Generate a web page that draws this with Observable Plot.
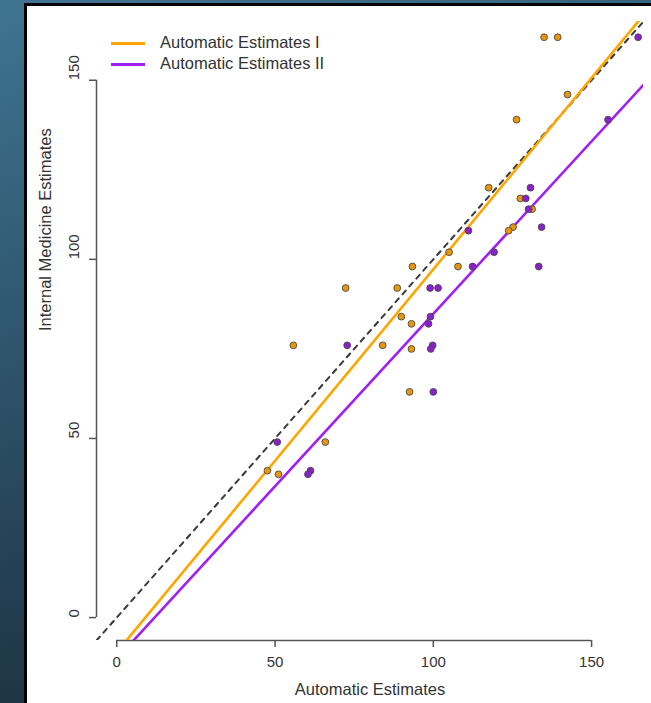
<!DOCTYPE html>
<html>
<head>
<meta charset="utf-8">
<script src="https://cdn.jsdelivr.net/npm/d3@7"></script>
<script src="https://cdn.jsdelivr.net/npm/@observablehq/plot@0.6"></script>
<style>
  html, body { margin: 0; padding: 0; }
  body {
    width: 651px; height: 703px; overflow: hidden; position: relative;
    background: linear-gradient(165deg, #3f7490 0%, #2c5168 45%, #172631 100%);
    font-family: "Liberation Sans", Arial, sans-serif;
  }
  #panel {
    position: absolute; left: 24px; top: 3px; width: 640px; height: 710px;
    background: #fff; border-left: 3px solid #000; border-top: 3px solid #000;
  }
  #chart { position: absolute; left: 0; top: 0; }
  #legend { position: absolute; left: 111px; top: 31px; color: #333; font-size: 16.5px; }
  .lg { position: relative; height: 21px; }
  .sw { position: absolute; left: 0; top: 11px; width: 34px; height: 2.5px; }
  .lt { position: absolute; left: 49px; top: 0; white-space: nowrap; line-height: 22px; }
</style>
</head>
<body>
<div id="panel"></div>
<div id="chart"></div>
<div id="legend"></div>
<script>
// Internal Medicine Estimates (shared y values)
const internalMedicine = [162,162,146,139,120,117,114,109,108,102,98,98,92,92,84,82,76,76,75,63,49,41,40];
// Automatic Estimates I (x values, orange)
const autoI  = [135,139.3,142.4,126.3,117.5,127.5,131.2,125.2,123.8,105,107.8,93.4,72.3,88.6,89.9,93.1,55.8,84,93.1,92.5,65.9,47.6,51.1];
// Automatic Estimates II (x values, purple); null = missing
const autoII = [164.7,null,null,155.2,130.7,129.2,130.1,134.2,111.1,119.2,112.4,133.3,99,101.5,99.1,98.5,72.8,99.8,99.2,100,50.7,61.2,60.4];

const seriesNames = ["Automatic Estimates I", "Automatic Estimates II"];
const xTicks = [0, 50, 100, 150];
const yTicks = [0, 50, 100, 150];
const axisLimits = [0, 160];

const lineColors = ["#FFA500", "#A020F0"];
const pointColors = ["#E8960A", "#8A1FCB"];

// R-style 4% axis expansion
const pad = 0.04 * (axisLimits[1] - axisLimits[0]);
const dom = [axisLimits[0] - pad, axisLimits[1] + pad];

function pairs(xs) {
  return xs.map((x, i) => ({x, y: internalMedicine[i]})).filter(d => d.x != null);
}
const sets = [pairs(autoI), pairs(autoII)];

function fit(pts) {
  const mx = d3.mean(pts, d => d.x), my = d3.mean(pts, d => d.y);
  const sxy = d3.sum(pts, d => (d.x - mx) * (d.y - my));
  const sxx = d3.sum(pts, d => (d.x - mx) ** 2);
  const b = sxy / sxx, a = my - b * mx;
  return dom.map(x => ({x, y: a + b * x}));
}
const fits = sets.map(fit);
const identity = dom.map(v => ({x: v, y: v}));

const textColor = "#333";
const axisColor = "#555";

const plot = Plot.plot({
  width: 651, height: 703,
  marginLeft: 96, marginRight: 8, marginTop: 21, marginBottom: 63,
  x: {domain: dom, axis: null},
  y: {domain: dom, axis: null},
  style: {background: "transparent", fontFamily: "'Liberation Sans', Arial, sans-serif", color: textColor},
  marks: [
    // axes (R style: line spans first..last tick)
    Plot.ruleY([dom[0]], {x1: xTicks[0], x2: xTicks[xTicks.length - 1], stroke: axisColor, strokeWidth: 1.5}),
    Plot.ruleX([dom[0]], {y1: yTicks[0], y2: yTicks[yTicks.length - 1], stroke: axisColor, strokeWidth: 1.5}),
    Plot.axisX({ticks: xTicks, tickSize: 7, fill: "none", stroke: axisColor, strokeWidth: 1.5, label: null}),
    Plot.axisY({ticks: yTicks, tickSize: 7, fill: "none", stroke: axisColor, strokeWidth: 1.5, label: null}),
    Plot.text(xTicks, {x: d => d, frameAnchor: "bottom", dy: 22, lineAnchor: "middle", text: d => String(d), fontSize: 15, fill: textColor}),
    Plot.text(yTicks, {y: d => d, frameAnchor: "left", dx: -22, rotate: -90, lineAnchor: "middle", text: d => String(d), fontSize: 15, fill: textColor}),
    Plot.text(["Automatic Estimates"], {frameAnchor: "bottom", dy: 49, lineAnchor: "middle", fontSize: 16.5, fill: textColor}),
    Plot.text(["Internal Medicine Estimates"], {frameAnchor: "left", dx: -51, rotate: -90, lineAnchor: "middle", fontSize: 16.5, fill: textColor}),
    // identity line
    Plot.line(identity, {x: "x", y: "y", stroke: "#3a3a3a", strokeWidth: 2, strokeDasharray: "5,5.5", clip: true}),
    // regression lines
    Plot.line(fits[0], {x: "x", y: "y", stroke: lineColors[0], strokeWidth: 2.6, clip: true}),
    Plot.line(fits[1], {x: "x", y: "y", stroke: lineColors[1], strokeWidth: 2.6, clip: true}),
    // points
    Plot.dot(sets[0], {x: "x", y: "y", r: 3.4, fill: pointColors[0], stroke: "#4a4a4a", strokeWidth: 0.9}),
    Plot.dot(sets[1], {x: "x", y: "y", r: 3.4, fill: pointColors[1], stroke: "#4a4a4a", strokeWidth: 0.9})
  ]
});
document.getElementById("chart").appendChild(plot);

const lg = document.getElementById("legend");
seriesNames.forEach((name, i) => {
  const row = document.createElement("div");
  row.className = "lg";
  const sw = document.createElement("div");
  sw.className = "sw";
  sw.style.background = lineColors[i];
  const t = document.createElement("div");
  t.className = "lt";
  t.textContent = name;
  row.appendChild(sw); row.appendChild(t);
  lg.appendChild(row);
});
</script>
</body>
</html>
